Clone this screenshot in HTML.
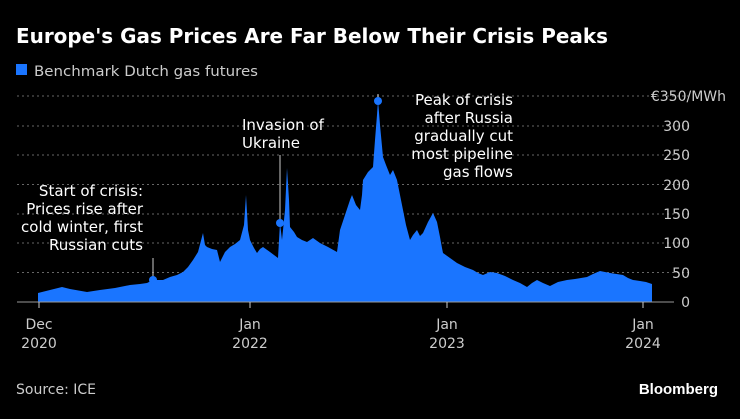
<!DOCTYPE html>
<html><head><meta charset="utf-8"><style>
html,body{margin:0;padding:0;background:#000;}
body{width:740px;height:415px;overflow:hidden;font-family:"DejaVu Sans",sans-serif;}
</style></head><body>
<svg width="740" height="415" viewBox="0 0 740 415" xmlns="http://www.w3.org/2000/svg" font-family="DejaVu Sans, sans-serif">
<rect width="740" height="415" fill="#000"/>
<text x="16" y="43" fill="#fff" font-size="20" font-weight="bold" textLength="592" lengthAdjust="spacingAndGlyphs">Europe's Gas Prices Are Far Below Their Crisis Peaks</text>
<rect x="16" y="64" width="11" height="11" fill="#1a75ff"/>
<text x="34" y="76" fill="#ccc" font-size="14" textLength="224" lengthAdjust="spacingAndGlyphs">Benchmark Dutch gas futures</text>
<g stroke="#666" stroke-dasharray="2,3" stroke-width="1">
<line x1="17" x2="690" y1="96" y2="96"/>
<line x1="17" x2="690" y1="126" y2="126"/>
<line x1="17" x2="690" y1="155" y2="155"/>
<line x1="17" x2="690" y1="184.5" y2="184.5"/>
<line x1="17" x2="690" y1="214" y2="214"/>
<line x1="17" x2="690" y1="243" y2="243"/>
<line x1="17" x2="690" y1="272.5" y2="272.5"/>
</g>
<polygon fill="#1a75ff" points="38,302 38,293 50,290 62,287 70,289 87,292 100,290 115,288 130,285 140,284 147,283 153,280 163,280 170,277 177,275 183,272 188,267 193,260 198,252 203,233 205,245 207,247 212,249 217,250 220,262 225,252 230,247 235,244 240,240 244,225 246,195 248,230 250,240 254,248 257,253 260,249 263,247 270,252 278,258 280,223 282,240 285,210 287,168 289,200 290,227 294,232 297,237 302,240 307,242 313,238 320,243 328,247 337,252 340,230 345,215 350,200 352,195 356,205 360,210 362,195 363,180 368,172 373,167 375,140 377,115 378,100 380,125 383,157 386,165 390,175 393,170 397,180 400,195 403,210 406,225 410,240 413,235 417,230 420,236 423,233 428,222 433,213 437,222 440,237 442,248 443,253 450,258 457,263 465,267 473,270 478,273 483,275 490,272 497,273 505,276 513,280 520,283 527,287 532,283 537,280 543,283 550,286 558,282 567,280 575,279 587,277 593,274 600,271 610,273 623,275 628,278 633,280 640,281 646,282 652,284 652,302"/>
<line x1="17" x2="674" y1="302" y2="302" stroke="#999" stroke-width="1"/>
<g stroke="#ccc" stroke-width="1">
<line x1="39" x2="39" y1="302" y2="308"/>
<line x1="250" x2="250" y1="302" y2="308"/>
<line x1="447" x2="447" y1="302" y2="308"/>
<line x1="643" x2="643" y1="302" y2="308"/>
</g>
<g stroke="#ccc" stroke-width="1">
<line x1="153" x2="153" y1="258" y2="280"/>
<line x1="280" x2="280" y1="155" y2="223"/>
<line x1="378" x2="378" y1="94" y2="100"/>
</g>
<circle cx="153" cy="280" r="4" fill="#1a75ff"/>
<circle cx="280" cy="223" r="4" fill="#1a75ff"/>
<circle cx="378" cy="101" r="4" fill="#1a75ff"/>
<g fill="#fff" font-size="15">
<text x="143" y="196" text-anchor="end">Start of crisis:</text>
<text x="143" y="214" text-anchor="end">Prices rise after</text>
<text x="143" y="232" text-anchor="end">cold winter, first</text>
<text x="143" y="250" text-anchor="end">Russian cuts</text>
<text x="242" y="130">Invasion of</text>
<text x="242" y="148">Ukraine</text>
<text x="513" y="105" text-anchor="end">Peak of crisis</text>
<text x="513" y="123" text-anchor="end">after Russia</text>
<text x="513" y="141" text-anchor="end">gradually cut</text>
<text x="513" y="159" text-anchor="end">most pipeline</text>
<text x="513" y="177" text-anchor="end">gas flows</text>
</g>
<g fill="#ccc" font-size="14" text-anchor="end">
<text x="726" y="101">€350/MWh</text>
<text x="690" y="131">300</text>
<text x="690" y="160">250</text>
<text x="690" y="190">200</text>
<text x="690" y="219">150</text>
<text x="690" y="248">100</text>
<text x="690" y="278">50</text>
<text x="690" y="307">0</text>
</g>
<g fill="#ccc" font-size="14" text-anchor="middle">
<text x="39" y="329">Dec</text><text x="39" y="348">2020</text>
<text x="250" y="329">Jan</text><text x="250" y="348">2022</text>
<text x="447" y="329">Jan</text><text x="447" y="348">2023</text>
<text x="643" y="329">Jan</text><text x="643" y="348">2024</text>
</g>
<text x="16" y="394" fill="#ccc" font-size="14">Source: ICE</text>
<text x="718" y="394" fill="#fff" font-size="15" font-weight="bold" text-anchor="end" font-family="Liberation Sans, sans-serif">Bloomberg</text>
</svg>
</body></html>
